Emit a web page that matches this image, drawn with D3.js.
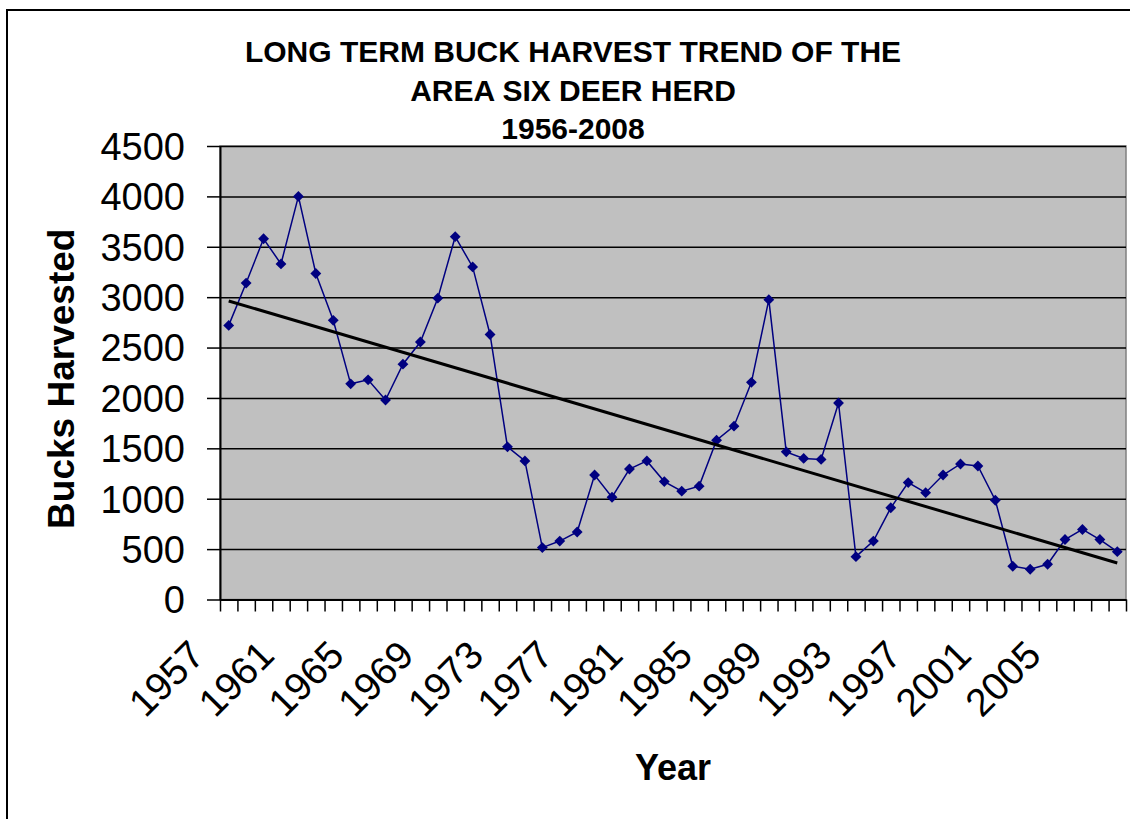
<!DOCTYPE html>
<html>
<head>
<meta charset="utf-8">
<script src="https://cdn.jsdelivr.net/npm/d3@7"></script>
<style>
  body { margin: 0; background: #fff; }
  text { font-family: "Liberation Sans", Arial, sans-serif; }
</style>
</head>
<body>
<div id="chart"></div>
<script>
'use strict';

var years = [1957, 1958, 1959, 1960, 1961, 1962, 1963, 1964, 1965, 1966,
  1967, 1968, 1969, 1970, 1971, 1972, 1973, 1974, 1975, 1976,
  1977, 1978, 1979, 1980, 1981, 1982, 1983, 1984, 1985, 1986,
  1987, 1988, 1989, 1990, 1991, 1992, 1993, 1994, 1995, 1996,
  1997, 1998, 1999, 2000, 2001, 2002, 2003, 2004, 2005, 2006,
  2007, 2008];

var bucks = [2720, 3140, 3580, 3330, 4000, 3235, 2770, 2140, 2180, 1980,
  2335, 2555, 2990, 3600, 3300, 2630, 1515, 1375, 515, 580,
  670, 1235, 1015, 1295, 1375, 1170, 1075, 1125, 1580, 1720,
  2155, 2975, 1465, 1400, 1390, 1950, 425, 580, 910, 1160,
  1060, 1235, 1345, 1325, 985, 330, 300, 350, 595, 695,
  595, 475];

var yTicks = [0, 500, 1000, 1500, 2000, 2500, 3000, 3500, 4000, 4500];
var xLabels = [1957, 1961, 1965, 1969, 1973, 1977, 1981, 1985, 1989, 1993, 1997, 2001, 2005];
var titleLines = ['LONG TERM BUCK HARVEST TREND OF THE', 'AREA SIX DEER HERD', '1956-2008'];

var W = 1130, H = 819;
var plot = { left: 220, right: 1126, top: 146, bottom: 599.5 };

var svg = d3.select('#chart').append('svg')
  .attr('width', W)
  .attr('height', H);

// outer chart border (runs off the right and bottom of the picture)
svg.append('path')
  .attr('d', 'M7,' + (H + 5) + 'V10H' + (W + 5))
  .attr('fill', 'none')
  .attr('stroke', '#000')
  .attr('stroke-width', 2);

var xBand = d3.scaleBand().domain(years).range([plot.left, plot.right]).padding(0);
var xEdge = d3.scaleLinear().domain([0, years.length]).range([plot.left, plot.right]);
var y = d3.scaleLinear().domain([0, 4500]).range([plot.bottom, plot.top]);
var cx = function(yr) { return xBand(yr) + xBand.bandwidth() / 2; };

// plot area
svg.append('rect')
  .attr('x', plot.left).attr('y', plot.top)
  .attr('width', plot.right - plot.left)
  .attr('height', plot.bottom - plot.top)
  .attr('fill', '#c0c0c0')
  .attr('stroke', '#808080')
  .attr('stroke-width', 1.5);

// gridlines
var grid = svg.append('g')
  .attr('transform', 'translate(' + plot.left + ',0)')
  .call(d3.axisLeft(y).tickValues(yTicks.slice(1)).tickSize(-(plot.right - plot.left)).tickFormat(''));
grid.select('.domain').remove();
grid.selectAll('line').attr('stroke', '#000').attr('stroke-width', 1.5);

// y axis
var yAxis = svg.append('g')
  .attr('transform', 'translate(' + plot.left + ',0)')
  .call(d3.axisLeft(y).tickValues(yTicks).tickFormat(d3.format('d')).tickSize(13).tickPadding(22).tickSizeOuter(0));
yAxis.select('.domain').attr('stroke', '#000').attr('stroke-width', 2);
yAxis.selectAll('line').attr('stroke', '#000').attr('stroke-width', 1.5);
yAxis.selectAll('text')
  .attr('fill', '#000')
  .style('font-size', '38px')
  .attr('dy', '0.35em');

// x axis: ticks on category edges
var xTicks = svg.append('g')
  .attr('transform', 'translate(0,' + plot.bottom + ')')
  .call(d3.axisBottom(xEdge).tickValues(d3.range(years.length + 1)).tickSize(12).tickFormat('').tickSizeOuter(0));
xTicks.select('.domain').attr('stroke', '#000').attr('stroke-width', 2);
xTicks.selectAll('line').attr('stroke', '#000').attr('stroke-width', 1.5);

// x labels, rotated
svg.append('g')
  .selectAll('text')
  .data(xLabels)
  .enter()
  .append('text')
  .attr('transform', function(d) {
    return 'translate(' + (cx(d) - 22) + ',' + (plot.bottom + 58) + ') rotate(-45)';
  })
  .attr('text-anchor', 'end')
  .style('font-size', '39px')
  .text(function(d) { return d; });

// trend line: least squares on year index
var n = bucks.length;
var mx = d3.mean(d3.range(n)), my = d3.mean(bucks);
var sxy = d3.sum(bucks, function(v, i) { return (i - mx) * (v - my); });
var sxx = d3.sum(d3.range(n), function(i) { return (i - mx) * (i - mx); });
var slope = sxy / sxx, icpt = my - slope * mx;

// series
var line = d3.line()
  .x(function(d, i) { return cx(years[i]); })
  .y(function(d) { return y(d); });

svg.append('path')
  .datum(bucks)
  .attr('d', line)
  .attr('fill', 'none')
  .attr('stroke', '#000080')
  .attr('stroke-width', 1.5);

svg.append('g')
  .selectAll('path')
  .data(bucks)
  .enter()
  .append('path')
  .attr('d', d3.symbol().type(d3.symbolDiamond2).size(75))
  .attr('transform', function(d, i) { return 'translate(' + cx(years[i]) + ',' + y(d) + ')'; })
  .attr('fill', '#000080');

svg.append('line')
  .attr('x1', cx(years[0])).attr('y1', y(icpt))
  .attr('x2', cx(years[n - 1])).attr('y2', y(icpt + slope * (n - 1)))
  .attr('stroke', '#000')
  .attr('stroke-width', 3);

// titles
svg.append('g')
  .selectAll('text')
  .data(titleLines)
  .enter()
  .append('text')
  .attr('x', 573)
  .attr('y', function(d, i) { return 62 + i * 38.5; })
  .attr('text-anchor', 'middle')
  .style('font-size', '30px')
  .style('font-weight', 'bold')
  .text(function(d) { return d; });

svg.append('text')
  .attr('transform', 'translate(74,' + ((plot.top + plot.bottom) / 2 + 6) + ') rotate(-90)')
  .attr('text-anchor', 'middle')
  .style('font-size', '37px')
  .style('font-weight', 'bold')
  .text('Bucks Harvested');

svg.append('text')
  .attr('x', (plot.left + plot.right) / 2)
  .attr('y', 780)
  .attr('text-anchor', 'middle')
  .style('font-size', '36px')
  .style('font-weight', 'bold')
  .text('Year');
</script>
</body>
</html>
